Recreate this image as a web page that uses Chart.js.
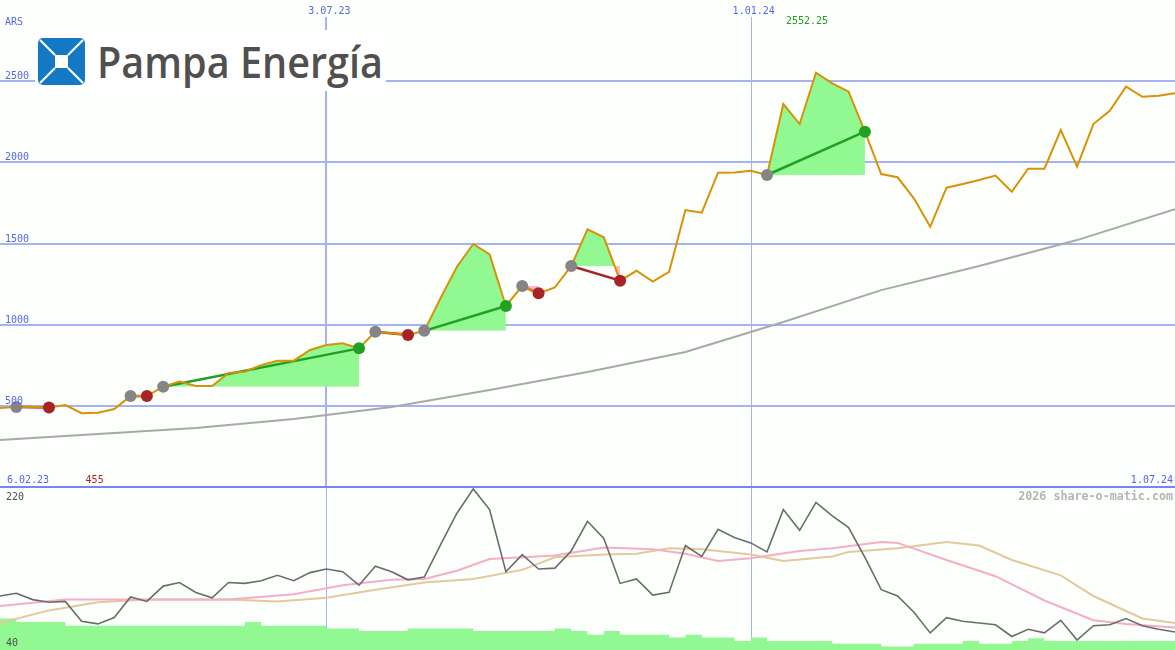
<!DOCTYPE html>
<html>
<head>
<meta charset="utf-8">
<script src="https://cdn.jsdelivr.net/npm/chart.js@4.4.1/dist/chart.umd.min.js"></script>
<style>
  html, body { margin: 0; padding: 0; background: #fcfffc; }
  #wrap { position: relative; width: 1175px; height: 650px; overflow: hidden; background: #fcfffc; }
  #mainChart { position: absolute; left: 0; top: 0; }
  #subChart { position: absolute; left: 0; top: 488px; }
  #sep { position: absolute; left: 0; top: 486px; width: 1175px; height: 2px; background: #7686f0; }
  #logo { position: absolute; left: 35px; top: 30px; width: 351px; height: 61px; background: #fff; }
  #logo svg { position: absolute; left: 3px; top: 8px; }
  #logoText { position: absolute; left: 62px; top: 9px; font-family: "Open Sans", sans-serif; font-weight: 600;
              font-size: 44px; line-height: 44px; color: #505050; white-space: nowrap; transform-origin: 0 0; }
</style>
</head>
<body>
<div id="wrap">
  <canvas id="mainChart" width="1175" height="487"></canvas>
  <canvas id="subChart" width="1175" height="162"></canvas>
  <div id="sep"></div>
  <div id="logo">
    <svg width="47" height="47" viewBox="0 0 47 47">
      <rect x="0" y="0" width="47" height="47" rx="5" fill="#1479c4"/>
      <path d="M2 2 L17 17 M45 2 L30 17 M2 45 L17 30 M45 45 L30 30" stroke="#fff" stroke-width="2.2"/>
      <rect x="17" y="17" width="13" height="13" fill="#fff"/>
    </svg>
    <div id="logoText">Pampa Energía</div>
  </div>
</div>
<script>
// weekly closes, index 0 = 6.02.23 ... index 72 = 1.07.24
const prices = [487, 493, 495, 490, 505, 455, 458, 480, 560, 560,
                618, 649, 622, 622, 702, 710, 751, 778, 778, 844,
                875, 885, 854, 957, 947, 936, 962, 1164, 1357, 1497,
                1433, 1115, 1238, 1193, 1230, 1361, 1587, 1538, 1271, 1332,
                1265, 1326, 1706, 1690, 1936, 1938, 1948, 1922, 2359, 2236,
                2552.25, 2487, 2435, 2189, 1928, 1908, 1778, 1603, 1844, 1866,
                1891, 1918, 1819, 1961, 1961, 2199, 1973, 2236, 2318, 2466,
                2404, 2410, 2425];

// long moving average (grey), read at a few positions
const maIdx = [0, 6, 12, 18, 24, 30, 36, 42, 48, 54, 60, 66, 72];
const maVals = [290, 326, 363, 419, 493, 598, 708, 832, 1016, 1213, 1361, 1521, 1712];

// trades: entry / exit week index
const entryIdx = [1, 8, 10, 23, 26, 32, 35, 47];
const exitIdx = [3, 9, 22, 25, 31, 33, 38, 53];

// axis labels
const yTicks = [500, 1000, 1500, 2000, 2500];
const xTickIdx = [20, 46];
const xTickLabels = ['3.07.23', '1.01.24'];
const firstDate = '6.02.23';
const lastDate = '1.07.24';

// lower panel
const osc = [100, 103, 96, 93, 94, 72, 69, 76, 99, 94,
             111, 115, 104, 98, 115, 114, 117, 123, 117, 126,
             130, 127, 112, 133, 127, 118, 121, 157, 192, 219,
             196, 127, 146, 130, 131, 150, 183, 164, 114, 119,
             101, 104, 156, 144, 174, 165, 159, 149, 196, 173,
             204, 189, 176, 143, 107, 100, 82, 59, 76, 72,
             70, 68, 55, 63, 59, 73, 51, 67, 68, 75,
             67, 63, 60];
const pinkIdx = [0, 4, 9, 14, 18, 21, 24, 26, 28, 30, 34, 37, 40, 42, 44, 46, 49, 51, 54, 55, 58, 61, 64, 67, 69, 72];
const pinkVals = [89, 96, 96, 96, 102, 112, 118, 119, 128, 141, 145, 154, 152, 147, 139, 142, 150, 153, 160, 159, 140, 122, 95, 73, 69, 65];
const tanIdx = [0, 3, 6, 9, 14, 17, 20, 23, 26, 29, 32, 34, 37, 39, 41, 43, 46, 48, 51, 52, 55, 58, 60, 62, 65, 67, 70, 72];
const tanVals = [70, 84, 93, 96, 96, 94, 98, 107, 115, 119, 129, 143, 146, 147, 153, 152, 146, 139, 144, 149, 153, 160, 156, 140, 123, 100, 75, 70];
const volume = [75, 75, 71, 71, 71, 67, 67, 67, 67, 67,
                67, 67, 67, 67, 67, 67, 71, 67, 67, 67,
                67, 64, 64, 61, 61, 61, 64, 64, 64, 64,
                61, 61, 61, 61, 61, 64, 61, 57, 61, 57,
                57, 57, 54, 57, 54, 54, 50, 54, 50, 50,
                50, 50, 47, 47, 47, 44, 44, 47, 47, 47,
                50, 47, 47, 50, 53, 50, 50, 50, 50, 50,
                50, 50, 50];

const BLUE_TXT = '#5566ee';
const GRID = '#a6b2f2';
const GREEN_FILL = '#92f892';
const PINK_FILL = '#ffb6c6';
const MONO = '"DejaVu Sans Mono", monospace';

const xy = (xs, ys) => xs.map((x, i) => ({ x: x, y: ys[i] }));
const idx = prices.map((_, i) => i);

// main panel datasets
const mainSets = [];
const markerPts = [];
const markerCols = [];
entryIdx.forEach((e, t) => {
  const x2 = exitIdx[t];
  const win = prices[x2] > prices[e];
  mainSets.push({
    data: idx.slice(e, x2 + 1).map(i => ({ x: i, y: prices[i] })),
    borderWidth: 0, pointRadius: 0, backgroundColor: GREEN_FILL,
    fill: { target: { value: prices[e] }, above: GREEN_FILL, below: PINK_FILL },
    order: 10
  });
  mainSets.push({
    data: [{ x: e, y: prices[e] }, { x: x2, y: prices[x2] }],
    borderColor: win ? '#22a022' : '#a82424', borderWidth: 2.5, pointRadius: 0, fill: false, order: 3
  });
  markerPts.push({ x: e, y: prices[e] });
  markerCols.push('#858585');
  markerPts.push({ x: x2, y: prices[x2] });
  markerCols.push(win ? '#22a022' : '#a82424');
});
mainSets.push({ data: xy(maIdx, maVals), borderColor: '#a9a9a9', borderWidth: 2, pointRadius: 0, fill: false, order: 4 });
mainSets.push({ data: xy(idx, prices), borderColor: '#d99207', borderWidth: 2, pointRadius: 0, fill: false, order: 2 });
mainSets.push({ type: 'scatter', data: markerPts, backgroundColor: markerCols, pointRadius: 6, pointBorderWidth: 0, showLine: false, order: 0 });

function txt(ctx, s, x, y, color, align, font) {
  ctx.font = font || '10px ' + MONO;
  ctx.fillStyle = color;
  ctx.textAlign = align || 'left';
  ctx.textBaseline = 'alphabetic';
  ctx.fillText(s, x, y);
}

const mainGrid = {
  id: 'mainGrid',
  beforeDatasetsDraw(chart) {
    const { ctx, scales: { x, y } } = chart;
    ctx.save();
    ctx.strokeStyle = GRID;
    yTicks.forEach(v => {
      const py = Math.round(y.getPixelForValue(v));
      ctx.lineWidth = 2;
      ctx.beginPath(); ctx.moveTo(0, py); ctx.lineTo(chart.width, py); ctx.stroke();
    });
    xTickIdx.forEach((v, i) => {
      const px = Math.round(x.getPixelForValue(v)) + (i ? 0.5 : 0);
      ctx.lineWidth = i === 0 ? 2 : 1;
      ctx.beginPath(); ctx.moveTo(px, 17); ctx.lineTo(px, chart.height); ctx.stroke();
    });
    ctx.restore();
  },
  afterDatasetsDraw(chart) {
    const { ctx, scales: { x, y } } = chart;
    ctx.save();
    txt(ctx, 'ARS', 5, 25, BLUE_TXT);
    yTicks.forEach(v => txt(ctx, String(v), 5, Math.round(y.getPixelForValue(v)) - 2, BLUE_TXT));
    xTickIdx.forEach((v, i) => txt(ctx, xTickLabels[i], x.getPixelForValue(v) + 3, 14, BLUE_TXT, 'center'));
    txt(ctx, firstDate, 7, 483, BLUE_TXT);
    txt(ctx, lastDate, 1173, 483, BLUE_TXT, 'right');
    const maxV = Math.max(...prices), minV = Math.min(...prices);
    const iMax = prices.indexOf(maxV), iMin = prices.indexOf(minV);
    txt(ctx, String(maxV), x.getPixelForValue(iMax) - 30, 24, '#22a022');
    txt(ctx, String(minV), x.getPixelForValue(iMin) + 4, 483, '#a82424');
    ctx.restore();
  }
};

const subGrid = {
  id: 'subGrid',
  beforeDatasetsDraw(chart) {
    const { ctx, scales: { x } } = chart;
    ctx.save();
    ctx.strokeStyle = GRID;
    ctx.lineWidth = 1;
    xTickIdx.forEach(v => {
      const px = Math.round(x.getPixelForValue(v)) + 0.5;
      ctx.beginPath(); ctx.moveTo(px, 0); ctx.lineTo(px, chart.height); ctx.stroke();
    });
    ctx.restore();
  },
  afterDatasetsDraw(chart) {
    const { ctx } = chart;
    ctx.save();
    txt(ctx, '220', 6, 12, '#505050');
    txt(ctx, '40', 6, 158, '#505050');
    txt(ctx, '2026 share-o-matic.com', 1173, 12, '#b4b4b4', 'right', 'bold 11.7px ' + MONO);
    ctx.restore();
  }
};

const baseOpts = (ymin, ymax) => ({
  responsive: false, animation: false, devicePixelRatio: 1,
  layout: { padding: 0, autoPadding: false },
  plugins: { legend: { display: false }, tooltip: { enabled: false } },
  elements: { line: { tension: 0 } },
  scales: {
    x: { type: 'linear', min: 0, max: 72, display: false },
    y: { type: 'linear', min: ymin, max: ymax, display: false }
  }
});

new Chart(document.getElementById('mainChart'), {
  type: 'line',
  data: { datasets: mainSets },
  options: baseOpts(0, 3000),
  plugins: [mainGrid]
});

new Chart(document.getElementById('subChart'), {
  type: 'line',
  data: {
    datasets: [
      { data: xy(idx, osc), borderColor: '#6c6c6c', borderWidth: 1.6, pointRadius: 0, fill: false, order: 0 },
      { data: xy(pinkIdx, pinkVals), borderColor: '#f6aec6', borderWidth: 2, pointRadius: 0, fill: false, order: 1 },
      { data: xy(tanIdx, tanVals), borderColor: '#e3c99b', borderWidth: 2, pointRadius: 0, fill: false, order: 2 },
      { data: xy(idx, volume), borderWidth: 0, borderColor: GREEN_FILL, backgroundColor: GREEN_FILL, pointRadius: 0,
        stepped: 'after', fill: 'start', order: 5 }
    ]
  },
  options: baseOpts(40, 220),
  plugins: [subGrid]
});

// fit logo text to its width
const lt = document.getElementById('logoText');
const w = lt.getBoundingClientRect().width;
lt.style.transform = 'scaleX(' + (286 / w) + ')';
</script>
</body>
</html>
